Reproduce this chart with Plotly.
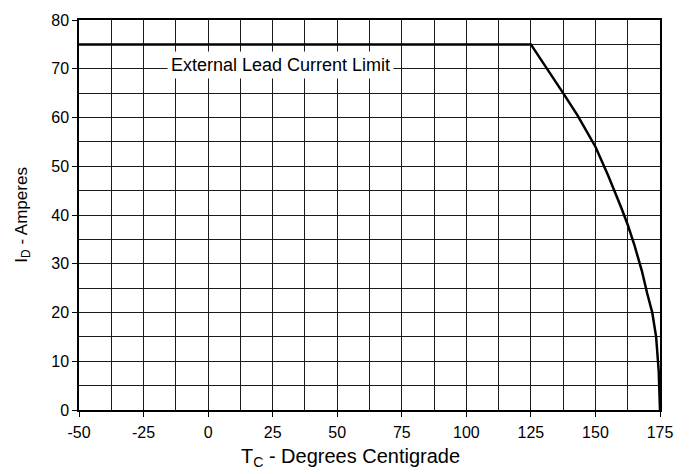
import plotly.graph_objects as go

temp_c = [-50, 125, 137.5, 143, 150, 155, 160, 162.5, 165, 168, 170, 172, 173.5, 174.5, 175]
current_a = [75, 75, 65, 60.5, 54, 48, 41.5, 38, 34, 28.5, 24, 20, 15, 8, 0]

x_ticks = [-50, -25, 0, 25, 50, 75, 100, 125, 150, 175]
x_tick_text = ["-50", "-25", "0", "25", "50", "75", "100", "125", "150", "175"]
y_ticks = [0, 10, 20, 30, 40, 50, 60, 70, 80]
y_tick_text = ["0", "10", "20", "30", "40", "50", "60", "70", "80"]

label_text = "External Lead Current Limit"
x_title = "T<sub>C</sub> - Degrees Centigrade"
y_title = "I<sub>D</sub> - Amperes"

FONT = "Liberation Sans, Arial, sans-serif"

fig = go.Figure()
fig.add_trace(go.Scatter(x=temp_c, y=current_a, mode="lines",
                         line=dict(color="black", width=2.5), showlegend=False,
                         hoverinfo="skip"))

fig.add_annotation(x=28, y=70.8, text=label_text, showarrow=False,
                   bgcolor="white", font=dict(family=FONT, size=18, color="black"),
                   borderpad=3)

# axis titles as annotations (positioned like the reference)
fig.add_annotation(xref="paper", yref="paper", x=0.468, y=-0.121,
                   xanchor="center", yanchor="middle", showarrow=False,
                   text=x_title, font=dict(family=FONT, size=20, color="black"))
fig.add_annotation(xref="paper", yref="paper", x=-0.097, y=0.5,
                   xanchor="center", yanchor="middle", showarrow=False, textangle=-90,
                   text=y_title, font=dict(family=FONT, size=17, color="black"))

axis_font = dict(family=FONT, size=16, color="black")
grid_col = "#1a1a1a"
fig.update_layout(
    width=696, height=474,
    margin=dict(l=79, r=36, t=13, b=64),
    paper_bgcolor="white", plot_bgcolor="white",
    font=dict(family=FONT, size=16, color="black"),
    xaxis=dict(range=[-50, 175], tickvals=x_ticks, ticktext=x_tick_text,
               ticks="outside", ticklen=5, ticklabelstandoff=2,
               tickcolor="black", showgrid=True, gridcolor=grid_col, gridwidth=1,
               minor=dict(dtick=12.5, tick0=-50, showgrid=True, gridcolor=grid_col, gridwidth=1),
               showline=True, linecolor="black", linewidth=1.5, mirror=True,
               zeroline=False, tickfont=axis_font, ticklabeloverflow="allow"),
    yaxis=dict(range=[0, 80], tickvals=y_ticks, ticktext=y_tick_text,
               ticks="outside", ticklen=5,
               tickcolor="black", showgrid=True, gridcolor=grid_col, gridwidth=1,
               minor=dict(dtick=5, tick0=0, showgrid=True, gridcolor=grid_col, gridwidth=1),
               showline=True, linecolor="black", linewidth=1.5, mirror=True,
               zeroline=False, tickfont=axis_font, ticklabeloverflow="allow"),
)

fig.write_html("out.html", config={"displayModeBar": False},
               post_script="document.body.style.margin='0';")
